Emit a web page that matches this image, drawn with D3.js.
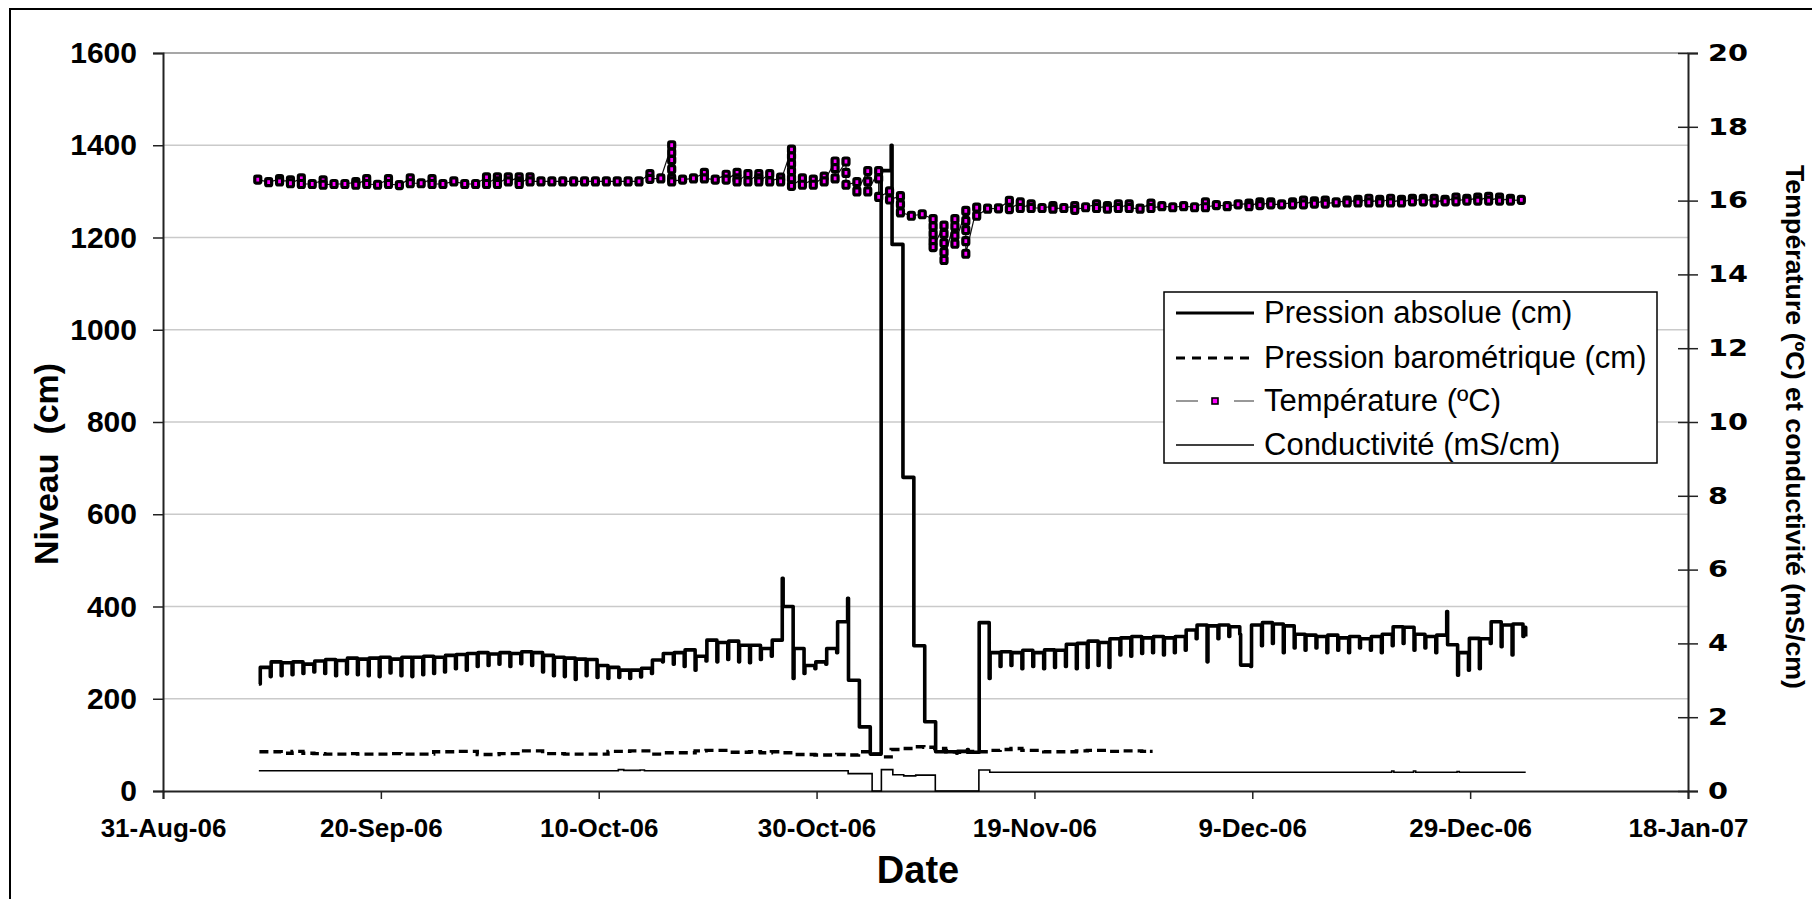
<!DOCTYPE html>
<html><head><meta charset="utf-8">
<script src="https://cdn.jsdelivr.net/npm/d3@7"></script>
<style>body{margin:0;background:#fff}svg{display:block}</style>
</head><body>
<svg id="c" width="1812" height="899"></svg>
<script>
// ---------- data ----------
const dateStart = "2006-08-31";
const dateEnd = "2007-01-18";
const tickDates = ["2006-08-31","2006-09-20","2006-10-10","2006-10-30","2006-11-19","2006-12-09","2006-12-29","2007-01-18"];
const leftTicks = [0,200,400,600,800,1000,1200,1400,1600];
const rightTicks = [0,2,4,6,8,10,12,14,16,18,20];
const legendLabels = ["Pression absolue (cm)","Pression barométrique (cm)","Température (ºC)","Conductivité (mS/cm)"];

// Pression absolue (cm): daily reading n -> [day n, value read at the reading, level held afterwards]
const absFirst = [8.8, 232];
const absolue = [
[8,232,268],[9,248,280],[10,250,278],[11,252,280],[12,255,275],[13,258,282],[14,255,285],[15,250,283],
[16,254,288],[17,252,286],[18,250,288],[19,248,290],[20,256,286],[21,250,290],[22,248,290],[23,252,292],
[24,255,290],[25,258,294],[26,265,296],[27,262,298],[28,270,300],[29,272,297],[30,275,300],[31,270,298],
[32,276,302],[33,272,300],[34,258,294],[35,250,290],[36,248,288],[37,242,286],[38,250,285],[39,246,272],
[40,244,268],[41,246,262],[42,244,262],[43,247,266],[44,255,284],[45,280,298],[46,275,300],[47,270,306],
[48,262,292],[49,282,327],[50,280,322],[51,285,325],[52,280,316],[53,278,316],[54,285,309],[55,292,327],
[56,461,400],[57,244,309],[58,255,272],[59,265,280],[60,275,309],[61,300,367],[62,418,240],[63,240,139],
[64,139,80],[65,80,1345],[66,1400,1185],[67,1185,680],[68,680,315],[69,315,150],[70,150,85],[71,88,85],
[72,82,86],[73,90,84],[74,84,365],[75,244,300],[76,270,302],[77,272,300],[78,265,305],[79,270,300],
[80,265,306],[81,268,305],[82,270,318],[83,265,320],[84,268,325],[85,272,322],[86,268,330],[87,295,332],
[88,292,335],[89,298,332],[90,300,335],[91,295,332],[92,300,335],[93,305,349],[94,330,360],[95,280,358],
[96,330,360],[97,335,356],[98,340,273],[99,270,360],[100,315,365],[101,320,362],[102,300,358],[103,310,340],
[104,305,338],[105,310,335],[106,300,338],[107,305,332],[108,300,335],[109,310,330],[110,305,335],[111,300,340],
[112,315,356],[113,320,355],[114,305,340],[115,310,335],[116,300,338],[117,389,317],[118,251,300],[119,262,331],
[120,265,330],[121,320,367],[122,313,360],[123,295,362],[124,335,355]
];
const absLast = [125.1, 335];

// Pression barométrique (cm): [day, value]
const barometrique = [
[8,85],[9,85],[10,82],[11,86],[12,82],[13,81],[14,80],[15,80],[16,81],[17,80],[18,80],[19,80],[20,81],
[21,80],[22,80],[23,80],[24,85],[25,85],[26,86],[27,86],[28,79],[29,79],[30,81],[31,81],[32,87],[33,87],
[34,81],[35,81],[36,80],[37,80],[38,80],[39,80],[40,86],[41,86],[42,87],[43,87],[44,80],[45,83],[46,83],
[47,83],[48,87],[49,88],[50,88],[51,84],[52,84],[53,85],[54,83],[55,85],[56,83],[57,79],[58,79],[59,78],
[60,78],[61,79],[62,78],[63,85],[64,80],[65,74],[66,90],[67,92],[68,96],[69,95],[70,92],[71,85],[72,84],
[73,86],[74,85],[75,88],[76,90],[77,92],[78,88],[79,88],[80,85],[81,85],[82,85],[83,87],[84,88],[85,88],
[86,86],[87,87],[88,87],[89,86],[90,86]
];
const baroLast = 90.6;

// Température (ºC): [day, readings of that day]
const temperature = [
[8,[16.57]],[9,[16.5]],[10,[16.58,16.52]],[11,[16.55,16.47]],[12,[16.6,16.45]],[13,[16.45]],[14,[16.55,16.43]],
[15,[16.45]],[16,[16.45]],[17,[16.5,16.43]],[18,[16.58,16.45]],[19,[16.43]],[20,[16.58,16.45]],[21,[16.42]],
[22,[16.6,16.47]],[23,[16.47]],[24,[16.58,16.45]],[25,[16.45]],[26,[16.52]],[27,[16.45]],[28,[16.45]],
[29,[16.63,16.45]],[30,[16.63,16.52,16.45]],[31,[16.63,16.52]],[32,[16.63,16.52,16.45]],[33,[16.63,16.52]],
[34,[16.52]],[35,[16.52]],[36,[16.52]],[37,[16.52]],[38,[16.52]],[39,[16.52]],[40,[16.52]],[41,[16.52]],
[42,[16.52]],[43,[16.52]],[44,[16.72,16.59]],[45,[16.6]],[46,[17.5,17.3,17.1,16.85,16.6,16.52]],[47,[16.57]],
[48,[16.6]],[49,[16.75,16.6]],[50,[16.57]],[51,[16.7,16.57]],[52,[16.75,16.6,16.52]],[53,[16.72,16.52]],
[54,[16.72,16.6,16.52]],[55,[16.72,16.52]],[56,[16.62,16.52]],[57,[17.38,17.2,17.0,16.8,16.6,16.4]],
[58,[16.6,16.43]],[59,[16.57,16.43]],[60,[16.65,16.52]],[61,[17.06,16.88,16.6]],[62,[17.06,16.75,16.43]],
[63,[16.5,16.25]],[64,[16.8,16.52,16.25]],[65,[16.8,16.6,16.1]],[66,[16.25,16.03]],[67,[16.12,15.9,15.68]],
[68,[15.59]],[69,[15.63]],[70,[15.5,15.3,15.1,14.9,14.74]],[71,[15.32,15.1,14.85,14.6,14.39]],
[72,[15.5,15.3,15.05,14.83]],[73,[15.72,15.45,15.2,14.9,14.56]],[74,[15.81,15.59]],[75,[15.78]],[76,[15.79]],
[77,[15.99,15.77]],[78,[15.95,15.8]],[79,[15.9,15.8]],[80,[15.8]],[81,[15.85,15.78]],[82,[15.8]],
[83,[15.85,15.75]],[84,[15.82]],[85,[15.9,15.8]],[86,[15.85,15.78]],[87,[15.9,15.8]],[88,[15.9,15.8]],
[89,[15.78]],[90,[15.92,15.8]],[91,[15.85]],[92,[15.82]],[93,[15.85]],[94,[15.82]],[95,[15.95,15.82]],
[96,[15.88]],[97,[15.85]],[98,[15.9]],[99,[15.92,15.85]],[100,[15.95,15.88]],[101,[15.95,15.9]],[102,[15.9]],
[103,[15.95,15.9]],[104,[16.0,15.9]],[105,[15.98,15.92]],[106,[16.0,15.92]],[107,[15.95]],[108,[16.0,15.95]],
[109,[16.02,15.95]],[110,[16.05,15.95]],[111,[16.02,15.95]],[112,[16.05,15.95]],[113,[16.02,15.95]],
[114,[16.05,15.98]],[115,[16.05,15.98]],[116,[16.05,15.95]],[117,[16.02,15.98]],[118,[16.08,15.98]],
[119,[16.05,16.0]],[120,[16.08,16.0]],[121,[16.1,16.0]],[122,[16.08,16.0]],[123,[16.05,16.0]],[124,[16.02]]
];

// Conductivité (mS/cm): [day, value] (held until next point)
const conductivite = [
[8.8,0.55],[41.8,0.58],[42.3,0.56],[43.8,0.57],[44.2,0.55],[62.9,0.47],[65.1,0],[65.95,0.58],[67.0,0.44],
[68.0,0.41],[69.1,0.43],[70.9,0],[74.9,0.57],[75.9,0.51],[112.8,0.54],[113.0,0.51],[114.8,0.54],[115.0,0.51],
[118.8,0.53],[119.0,0.51],[125.1,0.51]
];

// ---------- chart ----------
const W = 1812, H = 899;
const M = {left:163, right:1688, top:53, bottom:791};
const svg = d3.select("#c");
const parse = d3.utcParse("%Y-%m-%d");
const t0 = parse(dateStart).getTime();
const day = d => new Date(t0 + d*864e5);

const x = d3.scaleUtc().domain([parse(dateStart), parse(dateEnd)]).range([M.left, M.right]);
const yL = d3.scaleLinear().domain([0,1600]).range([M.bottom, M.top]);
const yR = d3.scaleLinear().domain([0,20]).range([M.bottom, M.top]);

// outer frame
svg.append("path").attr("d",`M10,${H+5}V9H${W+5}`).attr("fill","none").attr("stroke","#000").attr("stroke-width",2);

// gridlines
svg.append("g").selectAll("line").data(leftTicks.filter(v=>v>0)).join("line")
  .attr("x1",M.left).attr("x2",M.right).attr("y1",d=>yL(d)).attr("y2",d=>yL(d))
  .attr("stroke",d=>d===1600?"#8a8a8a":"#cacaca").attr("stroke-width",1.5);

// axes
const fontB = "'Liberation Sans', Arial, sans-serif";
const gx = svg.append("g").attr("transform",`translate(0,${M.bottom})`)
  .call(d3.axisBottom(x).tickValues(tickDates.map(parse)).tickFormat(d3.utcFormat("%-d-%b-%y")).tickSize(8).tickPadding(20));
const gl = svg.append("g").attr("transform",`translate(${M.left},0)`)
  .call(d3.axisLeft(yL).tickValues(leftTicks).tickFormat(d3.format("d")).tickSize(10).tickPadding(16));
const gr = svg.append("g").attr("transform",`translate(${M.right},0)`)
  .call(d3.axisRight(yR).tickValues(rightTicks).tickFormat(d3.format("d")).tickSize(10).tickPadding(10));
gr.selectAll(".tick line").attr("x1",-10).attr("x2",10);
[gx,gl,gr].forEach(g=>{
  g.select(".domain").attr("stroke","#222").attr("stroke-width",2);
  g.selectAll(".tick line").attr("stroke","#222").attr("stroke-width",1.5);
  g.selectAll("text").attr("fill","#000").style("font-weight","bold");
});
gx.selectAll("text").style("font-family",fontB).style("font-size","26px");
gl.selectAll("text").style("font-family",fontB).style("font-size","30px");
gr.selectAll("text").style("font-family","'DejaVu Sans', sans-serif").style("font-size","23px")
  .attr("x",16).attr("transform","scale(1.25,1)");

// titles
svg.append("text").attr("x",918).attr("y",883).attr("text-anchor","middle")
  .style("font-family",fontB).style("font-weight","bold").style("font-size","38px").text("Date");
svg.append("text").attr("transform","translate(58,565) rotate(-90)").attr("text-anchor","start")
  .style("font-family",fontB).style("font-weight","bold").style("font-size","34px").style("white-space","pre")
  .text("Niveau  (cm)");
svg.append("text").attr("transform","translate(1786,427) rotate(90)").attr("text-anchor","middle")
  .attr("textLength",524).attr("lengthAdjust","spacingAndGlyphs")
  .style("font-family",fontB).style("font-weight","bold").style("font-size","25px")
  .text("Température (ºC) et conductivité (mS/cm)");

// series
const plot = svg.append("g");
// conductivity
const condPts = conductivite.map(d=>[day(d[0]), d[1]]);
plot.append("path").datum(condPts)
  .attr("d", d3.line().x(d=>x(d[0])).y(d=>yR(d[1])).curve(d3.curveStepAfter))
  .attr("fill","none").attr("stroke","#000").attr("stroke-width",1.6);

// barometric
const baroPts = barometrique.map(d=>[day(d[0]+0.85), d[1]]);
baroPts.push([day(baroLast), barometrique[barometrique.length-1][1]]);
plot.append("path").datum(baroPts)
  .attr("d", d3.line().x(d=>x(d[0])).y(d=>yL(d[1])).curve(d3.curveStepAfter))
  .attr("fill","none").attr("stroke","#000").attr("stroke-width",3.4).attr("stroke-dasharray","9,5");

// absolute pressure
const absPts = [[day(absFirst[0]), absFirst[1]]];
absolue.forEach(d=>{ absPts.push([day(d[0]+0.85), d[1]]); absPts.push([day(d[0]+0.93), d[2]]); });
absPts.push([day(absLast[0]), absLast[1]]);
plot.append("path").datum(absPts)
  .attr("d", d3.line().x(d=>x(d[0])).y(d=>yL(d[1])).curve(d3.curveStepAfter))
  .attr("fill","none").attr("stroke","#000").attr("stroke-width",3.6).attr("stroke-linejoin","round");

// temperature
const tempPts = [];
temperature.forEach(d=>d[1].forEach(v=>tempPts.push([day(d[0]+0.7), v])));
plot.append("path").datum(tempPts)
  .attr("d", d3.line().x(d=>x(d[0])).y(d=>yR(d[1])))
  .attr("fill","none").attr("stroke","#111").attr("stroke-width",1.2);
plot.append("g").selectAll("rect").data(tempPts).join("rect")
  .attr("x",d=>x(d[0])-3).attr("y",d=>yR(d[1])-3.5).attr("width",6).attr("height",7).attr("rx",1.5)
  .attr("fill","#ff00ff").attr("stroke","#000").attr("stroke-width",3.2);

// legend
const lg = svg.append("g");
const LX = 1164, LY = 292, LW = 493, LH = 171;
lg.append("rect").attr("x",LX).attr("y",LY).attr("width",LW).attr("height",LH)
  .attr("fill","#fff").attr("stroke","#000").attr("stroke-width",1.5);
const rowY = [313,358,401,445];
const styles = [
  {w:3.2, dash:null, c:"#000"},
  {w:3.2, dash:"9,7", c:"#000"},
  {w:1.3, dash:"22,36", c:"#777"},
  {w:1.5, dash:null, c:"#000"}
];
legendLabels.forEach((lab,i)=>{
  lg.append("line").attr("x1",1176).attr("x2",1254).attr("y1",rowY[i]).attr("y2",rowY[i])
    .attr("stroke",styles[i].c).attr("stroke-width",styles[i].w).attr("stroke-dasharray",styles[i].dash);
  if(i===2){
    lg.append("rect").attr("x",1212).attr("y",rowY[i]-3).attr("width",6).attr("height",6)
      .attr("fill","#ff00ff").attr("stroke","#000").attr("stroke-width",1.6);
  }
  lg.append("text").attr("x",1264).attr("y",rowY[i]+10)
    .style("font-family",fontB).style("font-size","31px").attr("fill","#000").text(lab);
});
</script>
</body></html>
